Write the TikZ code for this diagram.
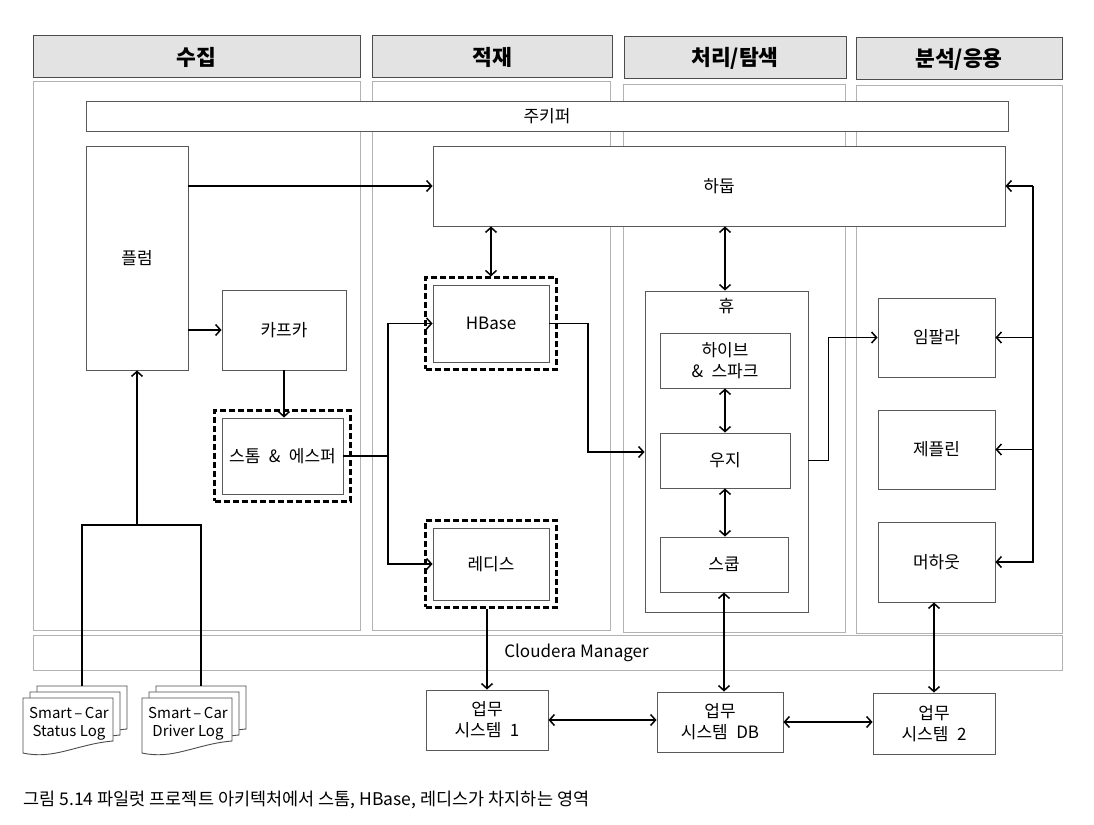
\documentclass[tikz,border=0pt]{standalone}
\usepackage{fontspec}
\setmainfont{Noto Sans CJK KR}
\usetikzlibrary{arrows.meta, positioning, calc, fit}
\newcommand{\hdrfont}{\fontsize{21.5}{24}\selectfont\bfseries}
\newcommand{\bxfont}{\fontsize{17}{21}\selectfont}
\newcommand{\capfont}{\fontsize{17.5}{20}\selectfont}
\tikzset{
    header/.style={
        rectangle, draw=gray!60!black, fill=gray!22, line width=1pt,
        minimum height=42pt, font=\hdrfont
    },
    panel/.style={rectangle, draw=gray!60, line width=0.9pt},
    box/.style={
        rectangle, draw=gray!70!black, fill=white, line width=0.9pt,
        font=\bxfont, align=center
    },
    dashfit/.style={draw=black, line width=2.2pt, dash pattern=on 6pt off 3pt, inner sep=7pt},
    line/.style={line width=1.5pt},
    arrow/.style={-{Straight Barb[length=5pt, width=11pt]}, line width=1.5pt},
    biarrow/.style={{Straight Barb[length=5pt, width=11pt]}-{Straight Barb[length=5pt, width=11pt]}, line width=1.5pt},
    doc/.style={draw=gray!60!black, fill=white, line width=0.9pt},
    logtext/.style={font=\fontsize{15}{18}\selectfont, align=center, inner sep=0pt},
}
% one sheet of a log stack: x, y, w, h
\newcommand{\logdoc}[4]{%
    \draw[doc] ({#1},{#2}) -- ({#1+#3},{#2}) -- ({#1+#3},{#2+#4-13})
        .. controls ({#1+0.6*#3},{#2+#4-10}) and ({#1+0.35*#3},{#2+#4+6}) .. ({#1},{#2+#4-1}) -- cycle;
}
% name, x, y, text
\newcommand{\logstack}[4]{%
    \logdoc{#2+14}{#3-12}{90}{56}
    \logdoc{#2+7}{#3-6}{90}{56}
    \logdoc{#2}{#3}{90}{56}
    \node[logtext] (#1) at ({#2+46},{#3+26}) {#4};
    \coordinate (#1-top) at ({#2+59},{#3-12});
}
\begin{document}
\begin{tikzpicture}[x=1pt, y=-1pt]
    \useasboundingbox (0,0) rectangle (1094,824);

    % headers and panels
    \node[header, minimum width=327pt] (hcollect) at (196.5,57) {수집};
    \node[header, minimum width=240pt] (hstore) at (492,57) {적재};
    \node[header, minimum width=222pt] (hprocess) at (735,58) {처리/탐색};
    \node[header, minimum width=206pt] (hanalyze) at (959,59) {분석/응용};

    \node[panel, minimum width=327pt, minimum height=549pt] (pcollect) at (196.5,356) {};
    \node[panel, minimum width=238pt, minimum height=549pt] (pstore) at (491,356) {};
    \node[panel, minimum width=222pt, minimum height=548pt] (pprocess) at (734,358) {};
    \node[panel, minimum width=206pt, minimum height=548pt] (panalyze) at (959,359) {};

    \node[box, minimum width=922pt, minimum height=30pt] (zookeeper) at (547,116) {주키퍼};
    \node[panel, fill=white, minimum width=1029pt, minimum height=35pt,
        label={[font=\bxfont, xshift=29pt]center:Cloudera Manager}] (cloudera) at (547.5,652.5) {};

    % 수집
    \node[box, minimum width=102pt, minimum height=224pt] (flume) at (137,258) {플럼};
    \node[box, minimum width=124pt, minimum height=80pt] (kafka) at (284,330) {카프카};
    \node[box, minimum width=121pt, minimum height=76pt] (storm) at (282.5,456) {스톰\hspace{0.5em}\&\hspace{0.5em}에스퍼};
    \node[dashfit, fit=(storm)] (stormzone) {};

    % 적재
    \node[box, minimum width=572pt, minimum height=80pt] (hadoop) at (719,186) {하둡};
    \node[box, minimum width=116pt, minimum height=77pt] (hbase) at (491,323.5) {HBase};
    \node[dashfit, fit=(hbase)] (hbasezone) {};
    \node[box, minimum width=116pt, minimum height=72pt] (redis) at (491,564) {레디스};
    \node[dashfit, fit=(redis)] (rediszone) {};

    % 처리/탐색
    \node[box, minimum width=163pt, minimum height=321pt,
        label={[font=\bxfont, anchor=north, yshift=-4pt]north:휴}] (hue) at (726.5,451.5) {};
    \node[box, minimum width=130pt, minimum height=55pt] (hive) at (725,360.5) {하이브\\\&\hspace{0.5em}스파크};
    \node[box, minimum width=130pt, minimum height=55pt] (oozie) at (725,460.5) {우지};
    \node[box, minimum width=128pt, minimum height=55pt] (sqoop) at (724,564.5) {스쿱};

    % 분석/응용
    \node[box, minimum width=117pt, minimum height=79pt] (impala) at (936.5,337.5) {임팔라};
    \node[box, minimum width=117pt, minimum height=79pt] (zeppelin) at (936.5,449.5) {제플린};
    \node[box, minimum width=117pt, minimum height=80pt] (mahout) at (936.5,562) {머하웃};

    % 업무 시스템
    \node[box, minimum width=122pt, minimum height=60pt] (sys1) at (487,720) {업무\\시스템\hspace{0.5em}1};
    \node[box, minimum width=126pt, minimum height=60pt] (sysdb) at (720,722) {업무\\시스템\hspace{0.5em}DB};
    \node[box, minimum width=122pt, minimum height=61pt] (sys2) at (934,723.5) {업무\\시스템\hspace{0.5em}2};

    % logs
    \logstack{statuslog}{23}{698}{Smart\,–\,Car\\Status Log}
    \logstack{driverlog}{142}{698}{Smart\,–\,Car\\Driver Log}

    % connectors
    \coordinate (logjoin) at (flume.south |- 0,525);
    \draw[line] (statuslog-top) |- (driverlog-top |- logjoin) -- (driverlog-top);
    \draw[arrow] (logjoin) -- (flume.south);
    \draw[arrow] (flume.east |- hadoop.west) -- (hadoop.west);
    \draw[arrow] (flume.east |- kafka.west) -- (kafka.west);
    \draw[arrow] (kafka.south) -- (kafka.south |- storm.north);

    \coordinate (stormsplit) at (388,456);
    \draw[line] (storm.east) -- (stormsplit);
    \draw[arrow] (stormsplit) |- (hbase.west);
    \draw[arrow] (stormsplit) |- (redis.west);
    \draw[biarrow] (hadoop.south -| hbase) -- (hbasezone.north);

    \coordinate (hbaseturn) at (588,452);
    \draw[arrow] (hbase.east) -| (hbaseturn) -- (hue.west |- hbaseturn);
    \draw[biarrow] (hadoop.south -| hive) -- (hue.north -| hive);
    \draw[biarrow] (hive.south) -- (oozie.north);
    \draw[biarrow] (oozie.south) -- (oozie.south |- sqoop.north);
    \draw[arrow] (hue.east |- oozie) -- ++(20,0) |- (impala.west);

    \coordinate (analyzebus) at (1033,186);
    \draw[arrow] (analyzebus) |- (mahout.east);
    \draw[arrow] (analyzebus) -- (hadoop.east);
    \draw[arrow] (analyzebus |- impala) -- (impala.east);
    \draw[arrow] (analyzebus |- zeppelin) -- (zeppelin.east);

    \draw[arrow] (rediszone.south -| sys1) -- (sys1.north);
    \draw[biarrow] (sqoop.south) -- (sqoop.south |- sysdb.north);
    \draw[biarrow] (mahout.south -| sys2) -- (sys2.north);
    \draw[biarrow] (sys1.east) -- (sys1.east -| sysdb.west);
    \draw[biarrow] (sysdb.east) -- (sysdb.east -| sys2.west);

    \node[font=\capfont, anchor=west] (caption) at (20,800) {그림 5.14 파일럿 프로젝트 아키텍처에서 스톰, HBase, 레디스가 차지하는 영역};
\end{tikzpicture}
\end{document}
